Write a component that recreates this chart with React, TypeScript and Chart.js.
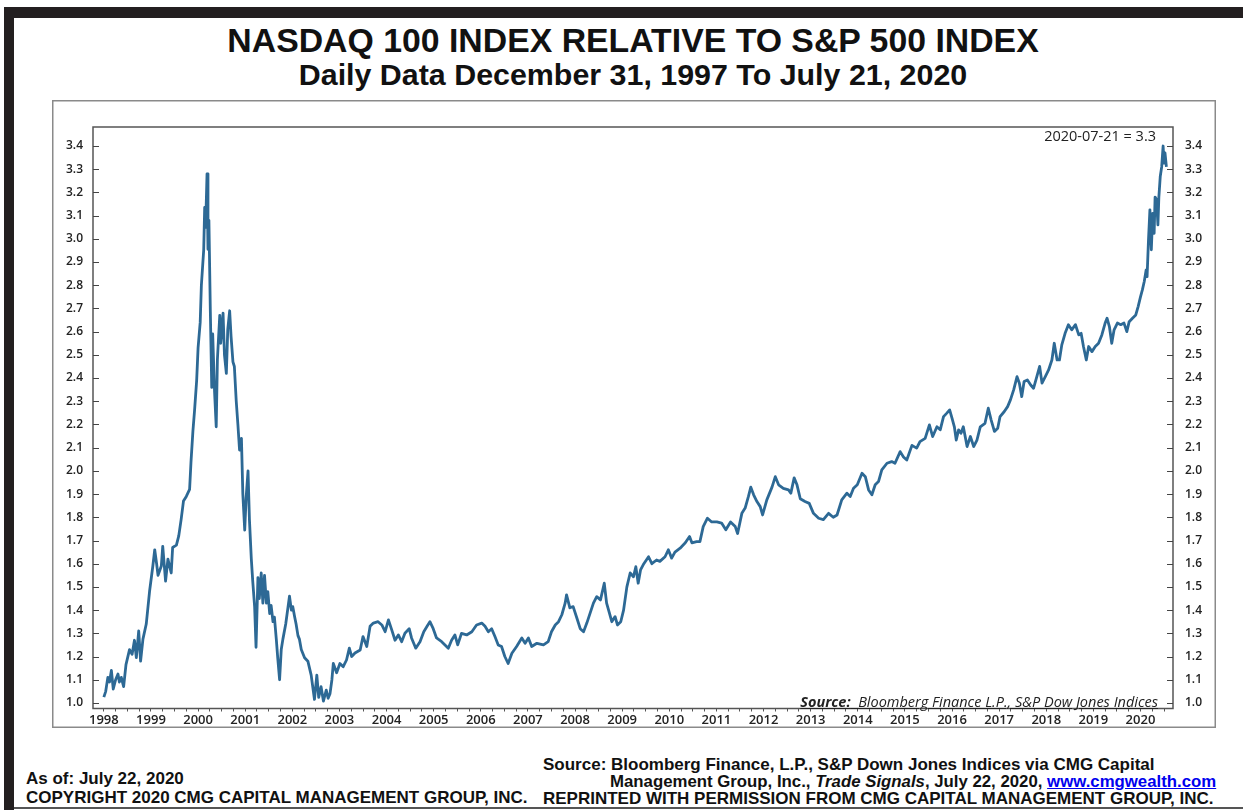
import React, { useEffect, useRef } from 'react';
import { Chart, registerables } from 'chart.js';

Chart.register(...registerables);

// ---- Data: [decimal year, NDX/SPX ratio] ----
const ratio1998to1999: [number, number][] = [
  [1998.0, 1.025], [1998.04, 1.05], [1998.085, 1.11], [1998.12, 1.09], [1998.16, 1.14], [1998.2, 1.06],
  [1998.25, 1.1], [1998.3, 1.125], [1998.33, 1.09], [1998.37, 1.11], [1998.42, 1.07], [1998.47, 1.165],
  [1998.545, 1.23], [1998.6, 1.21], [1998.65, 1.27], [1998.69, 1.195], [1998.74, 1.31], [1998.78, 1.18],
  [1998.83, 1.275], [1998.9, 1.34], [1998.97, 1.48], [1999.04, 1.59], [1999.08, 1.66], [1999.12, 1.6],
  [1999.15, 1.55], [1999.22, 1.59], [1999.25, 1.675], [1999.31, 1.525], [1999.36, 1.62], [1999.43, 1.56],
  [1999.46, 1.67], [1999.54, 1.68], [1999.59, 1.72], [1999.64, 1.79], [1999.69, 1.87], [1999.75, 1.89],
  [1999.82, 1.92],
];

const ratioBubble: [number, number][] = [
  [1999.85, 2.04], [1999.89, 2.17], [1999.925, 2.26], [1999.97, 2.39], [2000.0, 2.53], [2000.045, 2.64],
  [2000.07, 2.8], [2000.12, 2.955], [2000.14, 3.135], [2000.16, 3.05], [2000.19, 3.28], [2000.21, 2.955],
  [2000.23, 3.08], [2000.26, 2.69], [2000.29, 2.36], [2000.31, 2.59], [2000.35, 2.34], [2000.385, 2.19],
  [2000.41, 2.48], [2000.46, 2.67], [2000.48, 2.55], [2000.53, 2.68], [2000.56, 2.5], [2000.6, 2.42],
  [2000.63, 2.61], [2000.67, 2.69], [2000.7, 2.58], [2000.74, 2.47], [2000.77, 2.45], [2000.81, 2.3],
  [2000.845, 2.2], [2000.88, 2.09], [2000.92, 2.14], [2000.95, 1.9], [2000.99, 1.745],
];

const ratio2001to2002: [number, number][] = [
  [2001.02, 1.885], [2001.06, 2.0], [2001.09, 1.79], [2001.13, 1.62], [2001.16, 1.525], [2001.2, 1.415],
  [2001.23, 1.24], [2001.27, 1.54], [2001.3, 1.45], [2001.34, 1.56], [2001.375, 1.43], [2001.41, 1.55],
  [2001.45, 1.43], [2001.48, 1.48], [2001.52, 1.385], [2001.55, 1.42], [2001.59, 1.35], [2001.62, 1.37],
  [2001.66, 1.275], [2001.69, 1.195], [2001.73, 1.1], [2001.765, 1.23], [2001.8, 1.275], [2001.86, 1.34],
  [2001.91, 1.415], [2001.94, 1.46], [2001.98, 1.4], [2002.01, 1.415], [2002.05, 1.37], [2002.08, 1.34],
  [2002.12, 1.29], [2002.15, 1.275], [2002.19, 1.23], [2002.26, 1.195], [2002.33, 1.18], [2002.4, 1.12],
  [2002.47, 1.015], [2002.52, 1.12], [2002.56, 1.024], [2002.61, 1.07], [2002.66, 1.008], [2002.72, 1.055],
  [2002.76, 1.02],
];

const ratio2003to2008: [number, number][] = [
  [2002.8, 1.04], [2002.84, 1.1], [2002.87, 1.17], [2002.94, 1.13], [2003.01, 1.17], [2003.08, 1.156],
  [2003.15, 1.185], [2003.21, 1.236], [2003.26, 1.2], [2003.33, 1.215], [2003.44, 1.228], [2003.5, 1.286],
  [2003.58, 1.243], [2003.65, 1.33], [2003.72, 1.344], [2003.82, 1.35], [2003.9, 1.336], [2003.97, 1.307],
  [2004.04, 1.358], [2004.11, 1.315], [2004.18, 1.27], [2004.25, 1.293], [2004.32, 1.264], [2004.39, 1.3],
  [2004.48, 1.32], [2004.53, 1.28], [2004.62, 1.236], [2004.71, 1.264], [2004.79, 1.307], [2004.86, 1.33],
  [2004.92, 1.35], [2004.99, 1.32], [2005.06, 1.28], [2005.17, 1.264], [2005.24, 1.25], [2005.31, 1.236],
  [2005.38, 1.27], [2005.45, 1.293], [2005.51, 1.25], [2005.59, 1.3], [2005.7, 1.293], [2005.81, 1.307],
  [2005.91, 1.336], [2006.02, 1.344], [2006.09, 1.33], [2006.16, 1.307], [2006.23, 1.32], [2006.3, 1.286],
  [2006.37, 1.25], [2006.44, 1.243], [2006.51, 1.2], [2006.58, 1.17], [2006.66, 1.214], [2006.76, 1.243],
  [2006.87, 1.28], [2006.94, 1.257], [2007.01, 1.28], [2007.08, 1.243], [2007.19, 1.257], [2007.33, 1.25],
  [2007.43, 1.264], [2007.5, 1.307], [2007.58, 1.336], [2007.65, 1.35], [2007.72, 1.38], [2007.79, 1.43],
  [2007.82, 1.466], [2007.89, 1.41], [2007.96, 1.415], [2008.04, 1.365], [2008.11, 1.32], [2008.18, 1.307],
  [2008.25, 1.344], [2008.32, 1.387], [2008.39, 1.43], [2008.46, 1.458], [2008.54, 1.444], [2008.62, 1.516],
  [2008.67, 1.43], [2008.73, 1.387], [2008.78, 1.35], [2008.85, 1.372], [2008.9, 1.336], [2008.97, 1.35],
];

const ratio2009to2014: [number, number][] = [
  [2009.03, 1.4], [2009.1, 1.5], [2009.17, 1.56], [2009.24, 1.544], [2009.29, 1.587], [2009.34, 1.516],
  [2009.39, 1.573], [2009.46, 1.6], [2009.56, 1.63], [2009.63, 1.6], [2009.73, 1.616], [2009.8, 1.61],
  [2009.91, 1.63], [2009.98, 1.66], [2010.05, 1.624], [2010.12, 1.65], [2010.23, 1.667], [2010.34, 1.69],
  [2010.43, 1.717], [2010.48, 1.69], [2010.58, 1.695], [2010.65, 1.695], [2010.72, 1.76], [2010.81, 1.796],
  [2010.9, 1.78], [2011.01, 1.78], [2011.11, 1.775], [2011.2, 1.746], [2011.3, 1.78], [2011.4, 1.76],
  [2011.45, 1.73], [2011.54, 1.817], [2011.61, 1.84], [2011.68, 1.89], [2011.73, 1.93], [2011.79, 1.897],
  [2011.86, 1.868], [2011.93, 1.846], [2011.98, 1.81], [2012.07, 1.875], [2012.18, 1.93], [2012.25, 1.975],
  [2012.32, 1.94], [2012.42, 1.925], [2012.53, 1.918], [2012.58, 1.904], [2012.65, 1.97], [2012.71, 1.94],
  [2012.78, 1.88], [2012.88, 1.868], [2012.97, 1.86], [2013.06, 1.817], [2013.17, 1.796], [2013.27, 1.79],
  [2013.38, 1.817], [2013.48, 1.8], [2013.56, 1.81], [2013.66, 1.875], [2013.77, 1.904], [2013.84, 1.89],
  [2013.91, 1.925], [2013.99, 1.94], [2014.09, 1.99], [2014.16, 1.975], [2014.23, 1.918], [2014.3, 1.897],
  [2014.37, 1.94], [2014.44, 1.954], [2014.51, 2.004], [2014.62, 2.033], [2014.72, 2.04], [2014.79, 2.033],
  [2014.9, 2.083], [2014.97, 2.06],
];

const ratio2015to2020: [number, number][] = [
  [2015.04, 2.047], [2015.15, 2.11], [2015.25, 2.098], [2015.32, 2.126], [2015.43, 2.14], [2015.52, 2.198],
  [2015.59, 2.148], [2015.68, 2.19], [2015.75, 2.177], [2015.82, 2.234], [2015.89, 2.249], [2015.95, 2.263],
  [2016.0, 2.227], [2016.05, 2.19], [2016.09, 2.133], [2016.14, 2.177], [2016.19, 2.162], [2016.24, 2.19],
  [2016.32, 2.105], [2016.39, 2.148], [2016.46, 2.105], [2016.53, 2.133], [2016.6, 2.19], [2016.7, 2.205],
  [2016.77, 2.27], [2016.83, 2.22], [2016.9, 2.17], [2016.97, 2.184], [2017.02, 2.234], [2017.11, 2.256],
  [2017.18, 2.277], [2017.24, 2.306], [2017.31, 2.35], [2017.38, 2.406], [2017.43, 2.378], [2017.48, 2.32],
  [2017.53, 2.385], [2017.6, 2.392], [2017.67, 2.37], [2017.73, 2.356], [2017.8, 2.406], [2017.86, 2.45],
  [2017.91, 2.378], [2017.98, 2.406], [2018.05, 2.435], [2018.12, 2.478], [2018.17, 2.55], [2018.23, 2.478],
  [2018.28, 2.478], [2018.33, 2.543], [2018.4, 2.593], [2018.47, 2.63], [2018.54, 2.608], [2018.62, 2.63],
  [2018.69, 2.586], [2018.74, 2.593], [2018.79, 2.536], [2018.85, 2.478], [2018.9, 2.536], [2018.97, 2.514],
  [2019.04, 2.536], [2019.11, 2.55], [2019.18, 2.586], [2019.25, 2.637], [2019.29, 2.658], [2019.34, 2.622],
  [2019.39, 2.55], [2019.44, 2.608], [2019.51, 2.637], [2019.58, 2.63], [2019.65, 2.637], [2019.71, 2.6],
  [2019.76, 2.643], [2019.83, 2.658], [2019.9, 2.672], [2019.95, 2.708], [2020.0, 2.75], [2020.04, 2.78],
  [2020.08, 2.816], [2020.12, 2.866], [2020.14, 2.837], [2020.17, 2.996], [2020.2, 3.125], [2020.23, 2.953],
  [2020.26, 3.11], [2020.29, 3.024], [2020.31, 3.18], [2020.34, 3.17], [2020.37, 3.06], [2020.39, 3.18],
  [2020.42, 3.27], [2020.45, 3.31], [2020.48, 3.4], [2020.5, 3.326], [2020.52, 3.37], [2020.55, 3.31],
];

const yTickValues: number[] = [1.0, 1.1, 1.2, 1.3, 1.4, 1.5, 1.6, 1.7, 1.8, 1.9, 2.0, 2.1, 2.2, 2.3, 2.4, 2.5, 2.6, 2.7, 2.8, 2.9, 3.0, 3.1, 3.2, 3.3, 3.4];
const firstYear = 1998;
const lastYear = 2020;
const xMin = 1997.77;
const xMax = 2020.69;
const yMin = 0.976;
const yMax = 3.482;

const titleText = 'NASDAQ 100 INDEX RELATIVE TO S&P 500 INDEX';
const subtitleText = 'Daily Data December 31, 1997 To July 21, 2020';
const lastValueNote = '2020-07-21 = 3.3';

const lineColor = '#2d6995';

const framePlugin = {
  id: 'frameAndTicks',
  beforeDraw(chart: any) {
    const { ctx, width, height } = chart;
    ctx.save();
    ctx.fillStyle = '#ffffff';
    ctx.fillRect(0, 0, width, height);
    ctx.strokeStyle = '#8a8a8a';
    ctx.lineWidth = 1.5;
    ctx.strokeRect(0.75, 0.75, width - 1.5, height - 1.5);
    ctx.restore();
  },
  afterDraw(chart: any) {
    const { ctx, chartArea: a, scales } = chart;
    ctx.save();
    ctx.strokeStyle = '#555555';
    ctx.lineWidth = 1.5;
    ctx.strokeRect(a.left, a.top, a.right - a.left, a.bottom - a.top);
    ctx.lineWidth = 1;
    ctx.strokeStyle = '#444444';
    for (const v of yTickValues) {
      const y = Math.round(scales.y.getPixelForValue(v)) + 0.5;
      ctx.beginPath();
      ctx.moveTo(a.left, y);
      ctx.lineTo(a.left + 6, y);
      ctx.moveTo(a.right - 6, y);
      ctx.lineTo(a.right, y);
      ctx.stroke();
    }
    ctx.restore();
  },
};

function NdxChart() {
  const ref = useRef<HTMLCanvasElement | null>(null);
  useEffect(() => {
    if (!ref.current) return;
    const points = [
      ...ratio1998to1999, ...ratioBubble, ...ratio2001to2002,
      ...ratio2003to2008, ...ratio2009to2014, ...ratio2015to2020,
    ].map(([x, y]) => ({ x, y }));
    const quarterTicks: number[] = [];
    for (let i = 0; i <= (lastYear - firstYear) * 4 + 2; i++) quarterTicks.push(firstYear + i / 4);

    const yAxisCommon = (pad: number, w: number) => ({
      type: 'linear' as const,
      min: yMin,
      max: yMax,
      afterBuildTicks: (s: any) => { s.ticks = yTickValues.map((v) => ({ value: v })); },
      afterFit: (s: any) => { s.width = w; },
      ticks: {
        padding: pad,
        color: '#222',
        font: { family: 'Open Sans', size: 12, weight: '600' },
        callback: (v: any) => Number(v).toFixed(1),
      },
      grid: { display: false, drawTicks: false, tickLength: 0 },
      border: { display: false },
    });

    const chart = new Chart(ref.current, {
      type: 'line',
      data: {
        datasets: [{
          data: points,
          borderColor: lineColor,
          borderWidth: 2.8,
          borderJoinStyle: 'round',
          pointRadius: 0,
          tension: 0,
          fill: false,
          yAxisID: 'y',
        }],
      },
      options: {
        animation: false,
        responsive: false,
        parsing: false,
        normalized: true,
        layout: { padding: { top: 27, left: 0, right: 0, bottom: 0 } },
        plugins: { legend: { display: false }, tooltip: { enabled: false }, title: { display: false } },
        scales: {
          x: {
            type: 'linear',
            min: xMin,
            max: xMax,
            afterBuildTicks: (s: any) => { s.ticks = quarterTicks.map((v) => ({ value: v })); },
            afterFit: (s: any) => { s.height = 19.5; },
            ticks: {
              autoSkip: false,
              maxRotation: 0,
              minRotation: 0,
              padding: 1,
              color: '#222',
              font: { family: 'Open Sans', size: 13, weight: '600' },
              callback: (v: any) => (Number.isInteger(v) ? String(v) : ''),
            },
            grid: { drawOnChartArea: false, drawTicks: true, tickLength: 3, color: '#555', lineWidth: 1 },
            border: { display: false },
          },
          y: { ...yAxisCommon(10, 41), position: 'left' },
          y2: { ...yAxisCommon(12, 43), position: 'right' },
        },
      } as any,
      plugins: [framePlugin],
    });
    return () => chart.destroy();
  }, []);
  return <canvas ref={ref} width={1164} height={628} style={{ display: 'block' }} />;
}

export default function App() {
  const bold = { fontFamily: '"Liberation Sans", Arial, sans-serif', fontWeight: 700 as const, color: '#111' };
  return (
    <div style={{ position: 'relative', width: 1243, height: 810, background: '#fff', overflow: 'hidden' }}>
      <style>{'body{margin:0;}'}</style>
      {/* outer frame */}
      <div style={{ position: 'absolute', left: 4, top: 7, width: 1239, height: 11, background: '#231f20' }} />
      <div style={{ position: 'absolute', left: 4, top: 7, width: 10, height: 803, background: '#231f20' }} />
      <div style={{ position: 'absolute', left: 14, top: 807, width: 1229, height: 2, background: '#555' }} />

      {/* titles */}
      <div style={{ ...bold, position: 'absolute', left: 633, top: 24, transform: 'translateX(-50%)', whiteSpace: 'nowrap', fontSize: 33.8, lineHeight: '33.8px' }}>{titleText}</div>
      <div style={{ ...bold, position: 'absolute', left: 633, top: 58.5, transform: 'translateX(-50%)', whiteSpace: 'nowrap', fontSize: 30.4, lineHeight: '30.4px' }}>{subtitleText}</div>

      {/* chart panel */}
      <div style={{ position: 'absolute', left: 52, top: 100, width: 1164, height: 628 }}>
        <NdxChart />
      </div>

      {/* in-plot texts */}
      <div style={{ position: 'absolute', right: 1243 - 1156, top: 128.5, whiteSpace: 'nowrap', fontFamily: '"Open Sans", sans-serif', fontSize: 14.5, lineHeight: '14.5px', color: '#222' }}>{lastValueNote}</div>
      <div style={{ position: 'absolute', right: 1243 - 1158, top: 695, whiteSpace: 'nowrap', fontFamily: '"Open Sans", sans-serif', fontStyle: 'italic', fontSize: 14.5, lineHeight: '14.5px', color: '#222', textDecoration: 'underline' }}>
        <span style={{ fontWeight: 700 }}>Source:</span>{'\u00a0\u00a0'}Bloomberg Finance L.P., S&amp;P Dow Jones Indices
      </div>

      {/* footer left */}
      <div style={{ ...bold, position: 'absolute', left: 26, top: 770, whiteSpace: 'nowrap', fontSize: 17, lineHeight: '17px' }}>As of: July 22, 2020</div>
      <div style={{ ...bold, position: 'absolute', left: 26, top: 789, whiteSpace: 'nowrap', fontSize: 17, lineHeight: '17px' }}>COPYRIGHT 2020 CMG CAPITAL MANAGEMENT GROUP, INC.</div>

      {/* footer right */}
      <div style={{ ...bold, position: 'absolute', left: 543, top: 756, whiteSpace: 'nowrap', fontSize: 17, lineHeight: '17px' }}>Source: Bloomberg Finance, L.P., S&amp;P Down Jones Indices via CMG Capital</div>
      <div style={{ ...bold, position: 'absolute', left: 610, top: 773, whiteSpace: 'nowrap', fontSize: 16.8, lineHeight: '17px' }}>
        Management Group, Inc., <i>Trade Signals</i>, July 22, 2020, <span style={{ color: '#0000ee', textDecoration: 'underline' }}>www.cmgwealth.com</span>
      </div>
      <div style={{ ...bold, position: 'absolute', left: 543, top: 790, whiteSpace: 'nowrap', fontSize: 17, lineHeight: '17px' }}>REPRINTED WITH PERMISSION FROM CMG CAPITAL MANAGEMENT GROUP, INC.</div>
    </div>
  );
}
